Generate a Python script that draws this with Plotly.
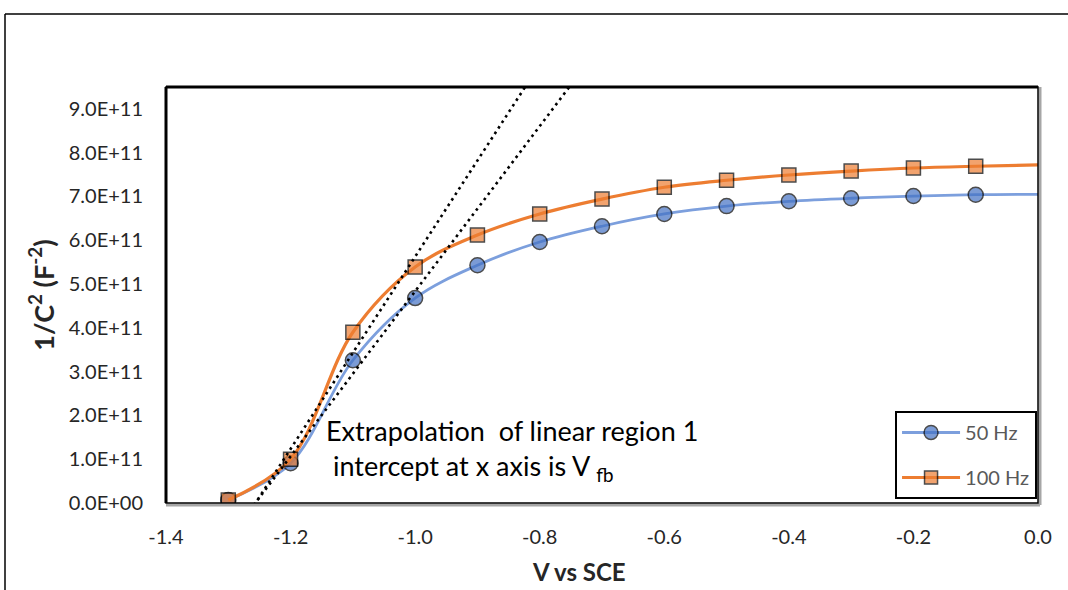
import numpy as np
import plotly.graph_objects as go

# Mott-Schottky data: potential vs SCE and 1/C^2 at two frequencies
volts = [-1.3, -1.2, -1.1, -1.0, -0.9, -0.8, -0.7, -0.6, -0.5, -0.4, -0.3, -0.2, -0.1, 0.0]
inv_c2_50hz = [0.07e11, 0.91e11, 3.26e11, 4.68e11, 5.43e11, 5.96e11, 6.32e11, 6.60e11,
               6.78e11, 6.89e11, 6.96e11, 7.01e11, 7.04e11, 7.05e11]
inv_c2_100hz = [0.07e11, 1.00e11, 3.90e11, 5.39e11, 6.12e11, 6.60e11, 6.94e11, 7.21e11,
                7.37e11, 7.49e11, 7.58e11, 7.65e11, 7.69e11, 7.72e11]

# Points of the linear region used for the extrapolation
linear_region = [-1.2, -1.1, -1.0]

y_tick_vals = [0, 1e11, 2e11, 3e11, 4e11, 5e11, 6e11, 7e11, 8e11, 9e11]
y_tick_text = ["0.0E+00", "1.0E+11", "2.0E+11", "3.0E+11", "4.0E+11", "5.0E+11",
               "6.0E+11", "7.0E+11", "8.0E+11", "9.0E+11"]
x_tick_vals = [-1.4, -1.2, -1.0, -0.8, -0.6, -0.4, -0.2, 0.0]
x_tick_text = ["-1.4", "-1.2", "-1.0", "-0.8", "-0.6", "-0.4", "-0.2", "0.0"]

FONT = "Lato"
BLUE = "#4472C4"
ORANGE = "#ED7D31"

# the last sample (0.0 V) only continues the curve, it carries no marker
marker_sizes = [0 if v == 0.0 else 14 for v in volts]

fig = go.Figure()

fig.add_trace(go.Scatter(
    x=volts, y=inv_c2_50hz, name="50 Hz", mode="lines+markers",
    line=dict(color="#7C9FDD", width=2.8, shape="spline", smoothing=1.0),
    marker=dict(symbol="circle", size=[s + 1 if s else 0 for s in marker_sizes],
                color=BLUE, line=dict(color="black", width=1.5)),
    legendgroup="a",
))
fig.add_trace(go.Scatter(
    x=volts, y=inv_c2_100hz, name="100 Hz", mode="lines+markers",
    line=dict(color=ORANGE, width=3.2, shape="spline", smoothing=1.0),
    marker=dict(symbol="square", size=marker_sizes,
                color=ORANGE, line=dict(color="black", width=1.5)),
    legendgroup="b",
))

# Linear fits over the steep region, extended down to the potential axis
for series in (inv_c2_50hz, inv_c2_100hz):
    xs = [v for v in volts if v in linear_region]
    ys = [series[volts.index(v)] for v in xs]
    slope, intercept = np.polyfit(xs, ys, 1)
    y_ends = np.array([-0.3e11, 10.5e11])
    x_ends = (y_ends - intercept) / slope
    fig.add_trace(go.Scatter(
        x=x_ends, y=y_ends, mode="lines", showlegend=False, hoverinfo="skip",
        line=dict(color="black", width=2.6, dash="2.6px,4px"),
    ))

fig.update_layout(
    width=1068, height=590,
    margin=dict(l=166, r=30, t=87, b=87),
    paper_bgcolor="white", plot_bgcolor="white",
    font=dict(family=FONT, size=20, color="#262626"),
    showlegend=True,
    legend=dict(
        x=0.9989, y=0.0096, xanchor="right", yanchor="bottom",
        bgcolor="white", bordercolor="black", borderwidth=2,
        font=dict(family=FONT, size=20, color="#595959"),
        traceorder="grouped", tracegroupgap=16,
        itemsizing="trace", itemwidth=58,
    ),
    xaxis=dict(
        range=[-1.4, 0.0], tickvals=x_tick_vals, ticktext=x_tick_text,
        showgrid=False, zeroline=False, showline=False, ticks="",
        ticklabelstandoff=20, tickfont=dict(size=20),
    ),
    yaxis=dict(
        range=[0, 9.5e11], tickvals=y_tick_vals, ticktext=y_tick_text,
        showgrid=False, zeroline=False, showline=False, ticks="",
        ticklabelstandoff=22, tickfont=dict(size=20),
        title=dict(text="<b>1/C<sup>2</sup> (F<sup>-2</sup>)</b>",
                   font=dict(size=27, color="#262626"), standoff=6),
    ),
)

# x-axis title
fig.add_annotation(
    text="<b>V vs SCE</b>", xref="paper", yref="paper", x=0.4736, y=-0.165,
    xanchor="center", yanchor="middle", showarrow=False,
    font=dict(family=FONT, size=24, color="#262626"),
)

# note on the extrapolation
fig.add_annotation(
    text="Extrapolation  of linear region 1<br> intercept at x axis is V <sub>fb</sub>",
    xref="paper", yref="paper", x=(324 - 166) / 872, y=(503 - 412) / 416,
    xanchor="left", yanchor="top", align="left", showarrow=False,
    font=dict(family=FONT, size=27, color="black"),
)

px = 1 / 872
py = 1 / 416
shapes = [
    # plot frame with a grey shadow on the right and bottom
    dict(type="line", xref="paper", yref="paper", x0=1 + 2 * px, x1=1 + 2 * px, y0=1, y1=-2 * py,
         line=dict(color="#A6A6A6", width=3)),
    dict(type="line", xref="paper", yref="paper", x0=0, x1=1 + 2 * px, y0=-2 * py, y1=-2 * py,
         line=dict(color="#A6A6A6", width=3)),
    dict(type="rect", xref="paper", yref="paper", x0=0, x1=1, y0=0, y1=1,
         line=dict(color="black", width=1.5)),
    dict(type="line", xref="paper", yref="paper", x0=0, x1=1, y0=1, y1=1,
         line=dict(color="black", width=3)),
    dict(type="line", xref="paper", yref="paper", x0=0, x1=0, y0=0, y1=1,
         line=dict(color="black", width=3)),
    # chart area border
    dict(type="line", xref="paper", yref="paper", x0=(5 - 166) * px, x1=1.5,
         y0=(503 - 14) * py, y1=(503 - 14) * py, line=dict(color="black", width=1.5)),
    dict(type="line", xref="paper", yref="paper", x0=(5 - 166) * px, x1=(5 - 166) * px,
         y0=(503 - 14) * py, y1=-0.5, line=dict(color="black", width=1.5)),
]
fig.update_layout(shapes=shapes)

fig.write_html("out.html")
